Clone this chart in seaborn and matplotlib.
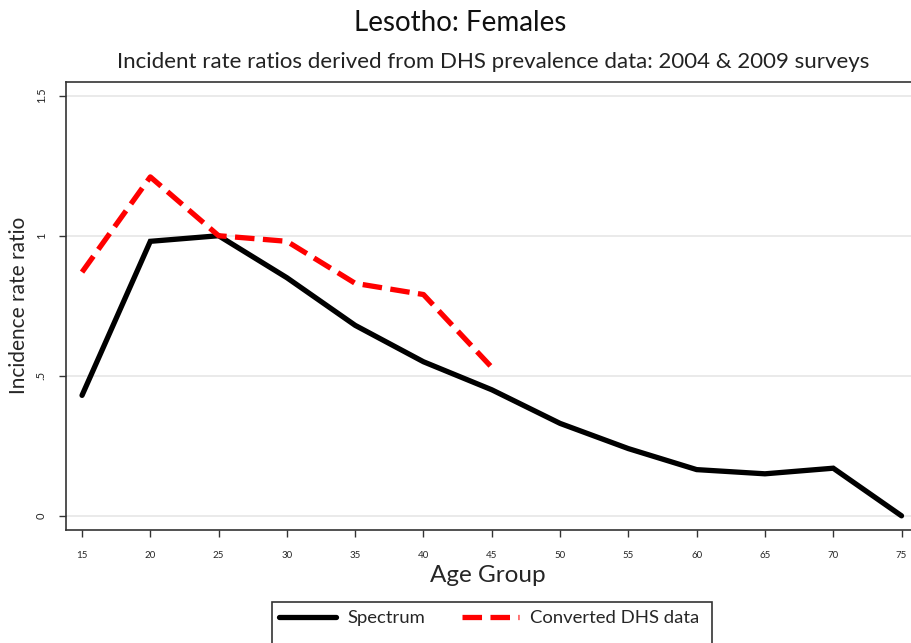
import matplotlib
matplotlib.use("Agg")
import matplotlib.pyplot as plt
import matplotlib.patches as mpatches
import seaborn as sns
import pandas as pd

age_spectrum = [15, 20, 25, 30, 35, 40, 45, 50, 55, 60, 65, 70, 75]
irr_spectrum = [0.43, 0.98, 1.00, 0.85, 0.68, 0.55, 0.45, 0.33, 0.24, 0.165, 0.15, 0.17, 0.0]
age_dhs = [15, 20, 25, 30, 35, 40, 45]
irr_dhs = [0.87, 1.21, 1.00, 0.98, 0.83, 0.79, 0.53]
x_ticks = list(range(15, 80, 5))
y_ticks = [0, 0.5, 1, 1.5]
y_ticklabels = ["0", ".5", "1", "1.5"]

sns.set_style("white")
plt.rcParams['font.family'] = ['Lato', 'DejaVu Sans']

W, H = 911, 643
fig = plt.figure(figsize=(W / 100, H / 100), dpi=100)
ax = fig.add_axes([0.0725, 0.176, 0.927, 0.697])

df_s = pd.DataFrame({"age": age_spectrum, "irr": irr_spectrum})
df_d = pd.DataFrame({"age": age_dhs, "irr": irr_dhs})
sns.lineplot(data=df_s, x="age", y="irr", ax=ax, color="black", linewidth=3.8,
             label="Spectrum", solid_joinstyle="miter")
sns.lineplot(data=df_d, x="age", y="irr", ax=ax, color="#ff0000", linewidth=3.8,
             dashes=(4.5, 1.8), linestyle="--", label="Converted DHS data")

ax.set_xlim(13.83, 75.66)
ax.set_ylim(-0.05, 1.55)
ax.set_xticks(x_ticks)
ax.set_xticklabels([str(t) for t in x_ticks], fontsize=7)
ax.set_yticks(y_ticks)
ax.set_yticklabels(y_ticklabels, fontsize=8, rotation=90, va="center")
ax.tick_params(axis="both", direction="out", length=5, width=1, color="#333333", bottom=True, left=True)
ax.tick_params(axis="x", pad=10)
ax.tick_params(axis="y", pad=9)
ax.yaxis.grid(True, color="#e6e6e6", linewidth=1.2)
ax.xaxis.grid(False)
for s in ax.spines.values():
    s.set_color("#333333")
    s.set_linewidth(1.2)
ax.spines["right"].set_visible(False)

ax.set_xlabel("Age Group", fontsize=17.5, labelpad=4)
ax.set_ylabel("Incidence rate ratio", fontsize=15, labelpad=5)

fig.text(0.505, 0.964, "Lesotho: Females", ha="center", va="center", fontsize=20, color="#111111")
fig.text(0.541, 0.903, "Incident rate ratios derived from DHS prevalence data: 2004 & 2009 surveys",
         ha="center", va="center", fontsize=16, color="#222222")

ax.legend_.remove()
handles, labels = ax.get_legend_handles_labels()
leg = fig.legend(handles, labels, loc="center", bbox_to_anchor=(489 / W, 1 - 618 / H), ncol=2,
                 frameon=False, fontsize=13.3, handlelength=3.1, handletextpad=0.6,
                 columnspacing=2.0, borderpad=0, borderaxespad=0)

rect = mpatches.Rectangle((272 / W, -0.05), (712 - 272) / W, (1 - 602 / H) + 0.05,
                          transform=fig.transFigure, fill=False, edgecolor="#333333",
                          linewidth=1.2, clip_on=False)
fig.add_artist(rect)

fig.savefig("out.png", dpi=100, facecolor="white")
